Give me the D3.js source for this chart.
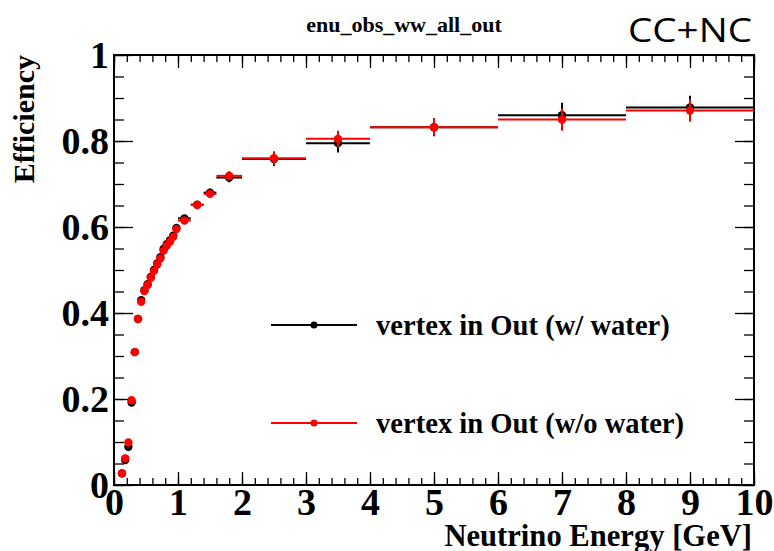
<!DOCTYPE html>
<html>
<head>
<meta charset="utf-8">
<script src="https://cdn.jsdelivr.net/npm/d3@7"></script>
<style>
  html, body { margin: 0; padding: 0; background: #fff; }
  svg { display: block; }
</style>
</head>
<body>
<div id="chart"></div>
<script>
// ---- data ----
const binCenters = [0.125,0.175,0.225,0.275,0.325,0.375,0.425,0.475,0.525,0.575,0.625,0.675,0.725,0.775,0.825,0.875,0.925,0.975,1.1,1.3,1.5,1.8,2.5,3.5,5,7,9];
const binHalfWidths = [0.025,0.025,0.025,0.025,0.025,0.025,0.025,0.025,0.025,0.025,0.025,0.025,0.025,0.025,0.025,0.025,0.025,0.025,0.1,0.1,0.1,0.2,0.5,0.5,1,1,1];
const effWithWater = [0.027,0.058,0.089,0.192,0.309,0.386,0.430,0.453,0.467,0.484,0.500,0.515,0.530,0.549,0.560,0.569,0.580,0.598,0.620,0.652,0.680,0.715,0.758,0.795,0.832,0.860,0.878];
const errWithWater = [0.004,0.005,0.006,0.006,0.006,0.006,0.006,0.006,0.006,0.006,0.006,0.006,0.006,0.006,0.006,0.006,0.006,0.006,0.007,0.008,0.009,0.011,0.016,0.022,0.021,0.029,0.027];
const effWithoutWater = [0.027,0.062,0.099,0.197,0.309,0.386,0.426,0.451,0.465,0.482,0.498,0.513,0.527,0.545,0.557,0.566,0.577,0.595,0.615,0.651,0.677,0.719,0.760,0.805,0.832,0.850,0.871];
const errWithoutWater = [0.004,0.005,0.006,0.006,0.006,0.006,0.006,0.006,0.006,0.006,0.006,0.006,0.006,0.006,0.006,0.006,0.006,0.006,0.007,0.008,0.009,0.011,0.016,0.019,0.020,0.026,0.026];
const seriesNames = ["vertex in Out (w/ water)", "vertex in Out (w/o water)"];
const seriesColors = ["#000000", "#ff0000"];
const xTicks = [0,1,2,3,4,5,6,7,8,9,10];
const yTicks = [0,0.2,0.4,0.6,0.8,1];
const yTickLabels = ["0","0.2","0.4","0.6","0.8","1"];
const titleText = "enu_obs_ww_all_out";
const cornerText = "CC+NC";
const xTitle = "Neutrino Energy [GeV]";
const yTitle = "Efficiency";

// ---- layout ----
const W = 774, H = 551;
const L = 114, R = 754, T = 55, B = 485;
const serif = "'Liberation Serif','Times New Roman',serif";

const svg = d3.select("#chart").append("svg").attr("width", W).attr("height", H);
svg.append("rect").attr("width", W).attr("height", H).attr("fill", "#fff");

const x = d3.scaleLinear().domain([0,10]).range([L,R]);
const y = d3.scaleLinear().domain([0,1]).range([B,T]);

const xMinor = d3.range(0, 10.0001, 0.2);
const yMinor = d3.range(0, 1.0001, 0.05);

function styleAxis(g) {
  g.select(".domain").remove();
  g.selectAll(".tick line").attr("stroke", "#000").attr("stroke-width", 1.3);
}

// bottom axis
svg.append("g").attr("transform", `translate(0,${B})`)
  .call(d3.axisBottom(x).tickValues(xMinor).tickSize(-7).tickFormat(""))
  .call(styleAxis);
const gxb = svg.append("g").attr("transform", `translate(0,${B})`)
  .call(d3.axisBottom(x).tickValues(xTicks).tickSize(-13).tickPadding(3).tickFormat(d3.format("d")))
  .call(styleAxis);
gxb.selectAll("text").attr("font-family", serif).attr("font-weight", "bold").attr("font-size", 38).attr("fill", "#000");

// top axis
svg.append("g").attr("transform", `translate(0,${T})`)
  .call(d3.axisTop(x).tickValues(xMinor).tickSize(-7).tickFormat(""))
  .call(styleAxis);
svg.append("g").attr("transform", `translate(0,${T})`)
  .call(d3.axisTop(x).tickValues(xTicks).tickSize(-13).tickFormat(""))
  .call(styleAxis);

// left axis
svg.append("g").attr("transform", `translate(${L},0)`)
  .call(d3.axisLeft(y).tickValues(yMinor).tickSize(-10).tickFormat(""))
  .call(styleAxis);
const gyl = svg.append("g").attr("transform", `translate(${L},0)`)
  .call(d3.axisLeft(y).tickValues(yTicks).tickSize(-19).tickPadding(5).tickFormat((d,i) => yTickLabels[i]))
  .call(styleAxis);
gyl.selectAll("text").attr("font-family", serif).attr("font-weight", "bold").attr("font-size", 38).attr("fill", "#000");

// right axis
svg.append("g").attr("transform", `translate(${R},0)`)
  .call(d3.axisRight(y).tickValues(yMinor).tickSize(-10).tickFormat(""))
  .call(styleAxis);
svg.append("g").attr("transform", `translate(${R},0)`)
  .call(d3.axisRight(y).tickValues(yTicks).tickSize(-19).tickFormat(""))
  .call(styleAxis);

// frame
svg.append("rect").attr("x", L).attr("y", T).attr("width", R-L).attr("height", B-T)
  .attr("fill", "none").attr("stroke", "#000").attr("stroke-width", 2);

// series
const series = [
  {eff: effWithWater, err: errWithWater, color: seriesColors[0]},
  {eff: effWithoutWater, err: errWithoutWater, color: seriesColors[1]}
];
series.forEach(s => {
  const data = binCenters.map((c,i) => ({c, hw: binHalfWidths[i], v: s.eff[i], e: s.err[i]}));
  const g = svg.append("g");
  g.selectAll("line.h").data(data).join("line")
    .attr("x1", d => x(d.c - d.hw)).attr("x2", d => x(d.c + d.hw))
    .attr("y1", d => y(d.v)).attr("y2", d => y(d.v))
    .attr("stroke", s.color).attr("stroke-width", 2);
  g.selectAll("line.v").data(data).join("line")
    .attr("x1", d => x(d.c)).attr("x2", d => x(d.c))
    .attr("y1", d => y(d.v - d.e)).attr("y2", d => y(d.v + d.e))
    .attr("stroke", s.color).attr("stroke-width", 2);
  g.selectAll("circle").data(data).join("circle")
    .attr("cx", d => x(d.c)).attr("cy", d => y(d.v)).attr("r", 4.2)
    .attr("fill", s.color);
});

// legend
const legY = [325, 423];
seriesNames.forEach((name, i) => {
  svg.append("line").attr("x1", 271).attr("x2", 357).attr("y1", legY[i]).attr("y2", legY[i])
    .attr("stroke", seriesColors[i]).attr("stroke-width", 2);
  svg.append("circle").attr("cx", 314).attr("cy", legY[i]).attr("r", 3.5).attr("fill", seriesColors[i]);
  svg.append("text").attr("x", 376).attr("y", legY[i] + 9.5)
    .attr("font-family", serif).attr("font-weight", "bold").attr("font-size", 28.6)
    .attr("fill", "#000").text(name);
});

// titles
svg.append("text").attr("x", 404).attr("y", 32).attr("text-anchor", "middle")
  .attr("font-family", serif).attr("font-weight", "bold").attr("font-size", 22).text(titleText);
svg.append("text").attr("x", 628).attr("y", 42)
  .attr("font-family", "'Open Sans','DejaVu Sans',sans-serif").attr("font-size", 33)
  .attr("textLength", 124).attr("lengthAdjust", "spacingAndGlyphs").text(cornerText);
svg.append("text").attr("x", 752).attr("y", 546).attr("text-anchor", "end")
  .attr("font-family", serif).attr("font-weight", "bold").attr("font-size", 30.6).text(xTitle);
svg.append("text").attr("transform", `translate(34,${T}) rotate(-90)`).attr("text-anchor", "end")
  .attr("font-family", serif).attr("font-weight", "bold").attr("font-size", 30).text(yTitle);
</script>
</body>
</html>
